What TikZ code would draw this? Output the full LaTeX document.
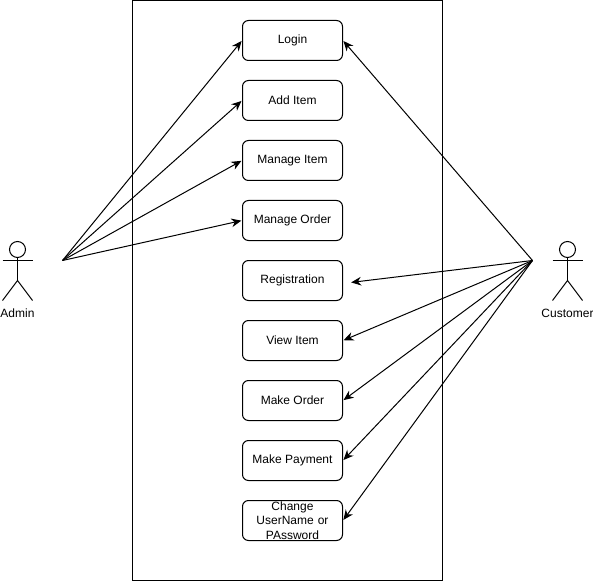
\documentclass[tikz,border=0pt]{standalone}
\usepackage{fontspec}
\setmainfont{Liberation Sans}
\usetikzlibrary{arrows.meta}
\tikzset{
  usecase/.style={draw=black,line width=0.75pt,rounded corners=4.5pt,minimum width=75pt,minimum height=30pt,inner sep=0pt,align=center,font=\fontsize{9}{11}\selectfont,text=black},
  label text/.style={inner sep=0pt,font=\fontsize{9}{11}\selectfont,text=black},
  actorline/.style={draw=black,line width=0.75pt},
  link/.style={draw=black,line width=0.75pt,-{Stealth[length=7.5pt,width=6.5pt]},shorten >=0.5pt}
}
\begin{document}
\begin{tikzpicture}[x=0.75pt,y=-0.75pt]
\useasboundingbox (-0.5,-0.5) rectangle (592.5,580.5);
\fill[white] (-0.5,-0.5) rectangle (592.5,580.5);
\node[draw=black,line width=0.75pt,minimum width=232.5pt,minimum height=435pt,inner sep=0pt] (system) at (287,290) {};
\node[usecase] (login) at (292,40) {Login};
\node[usecase] (additem) at (292,100) {Add Item};
\node[usecase] (manageitem) at (292,160) {Manage Item};
\node[usecase] (manageorder) at (292,220) {Manage Order};
\node[usecase] (registration) at (292,280) {Registration};
\node[usecase] (viewitem) at (292,340) {View Item};
\node[usecase] (makeorder) at (292,400) {Make Order};
\node[usecase] (makepayment) at (292,460) {Make Payment};
\node[usecase,text width=70pt,execute at begin node=\fontsize{9}{11}\selectfont] (changeuser) at (292,520) {Change\\UserName or\\PAssword};
% admin actor
\node[draw=black,line width=0.75pt,circle,minimum size=12pt,inner sep=0pt] (adminhead) at (17,249) {};
\coordinate (adminhip) at (17,280);
\coordinate (adminarml) at (2,260);
\coordinate (adminarmr) at (32,260);
\coordinate (adminfootl) at (2,300);
\coordinate (adminfootr) at (32,300);
\draw[actorline] (adminhead.south) -- (adminhip);
\draw[actorline] (adminarml) -- (adminarmr);
\draw[actorline] (adminfootl) -- (adminhip) -- (adminfootr);
\node[label text] (adminlabel) at (17,313) {Admin};
% customer actor
\node[draw=black,line width=0.75pt,circle,minimum size=12pt,inner sep=0pt] (custhead) at (567,249) {};
\coordinate (custhip) at (567,280);
\coordinate (custarml) at (552,260);
\coordinate (custarmr) at (582,260);
\coordinate (custfootl) at (552,300);
\coordinate (custfootr) at (582,300);
\draw[actorline] (custhead.south) -- (custhip);
\draw[actorline] (custarml) -- (custarmr);
\draw[actorline] (custfootl) -- (custhip) -- (custfootr);
\node[label text] (custlabel) at (567,313) {Customer};
% connectors
\coordinate (adminsrc) at (62,260);
\coordinate (custsrc) at (532,260);
\coordinate (regend) at (350,282);
\draw[link] (adminsrc) -- (login.west);
\draw[link] (adminsrc) -- (additem.west);
\draw[link] (adminsrc) -- (manageitem.west);
\draw[link] (adminsrc) -- (manageorder.west);
\draw[link] (custsrc) -- (login.east);
\draw[link] (custsrc) -- (regend);
\draw[link] (custsrc) -- (viewitem.east);
\draw[link] (custsrc) -- (makeorder.east);
\draw[link] (custsrc) -- (makepayment.east);
\draw[link] (custsrc) -- (changeuser.east);
\end{tikzpicture}
\end{document}
